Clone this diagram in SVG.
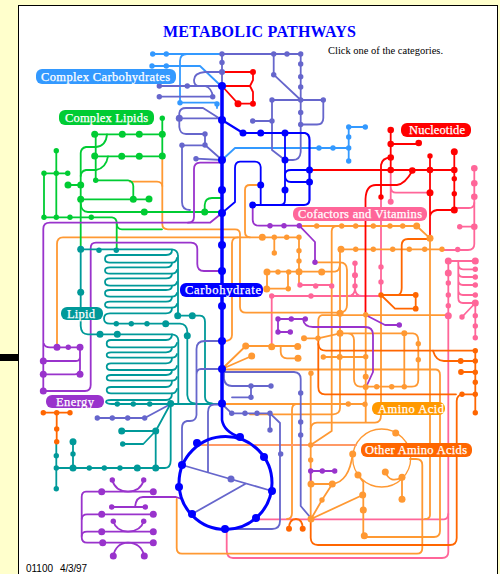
<svg xmlns="http://www.w3.org/2000/svg" width="500" height="574" viewBox="0 0 500 574">
<style>
.p{fill:none;stroke-width:1.8;stroke-linecap:round;stroke-linejoin:round}
.bl{stroke:#0000FF}.lb{stroke:#3399FF}.pb{stroke:#6666CC}.re{stroke:#FF0000}.gr{stroke:#00CC33}.lo{stroke:#FF9933}.dk{stroke:#FF6600}.pk{stroke:#FF6699}.pu{stroke:#9933CC}.te{stroke:#009999}
.fbl{fill:#0000FF}.flb{fill:#3399FF}.fpb{fill:#6666CC}.fre{fill:#FF0000}.fgr{fill:#00CC33}.flo{fill:#FF9933}.fdk{fill:#FF6600}.fpk{fill:#FF6699}.fpu{fill:#9933CC}.fte{fill:#009999}
.lab{font-family:"Liberation Serif",serif;font-size:12.5px;fill:#FFFFFF;stroke:#FFFFFF;stroke-width:.25}
</style>
<rect width="500" height="574" fill="#FFFFCC"/>
<rect x="18.5" y="5.5" width="479" height="570" fill="#FFFFFF" stroke="#000000" stroke-width="1"/>
<rect x="0" y="354" width="18" height="7" fill="#000000"/>
<text x="163" y="36.5" font-family="'Liberation Serif',serif" font-size="16" font-weight="bold" fill="#0000FF" textLength="193">METABOLIC PATHWAYS</text>
<text x="328" y="54" font-family="'Liberation Serif',serif" font-size="10.5" fill="#000000" textLength="115">Click one of the categories.</text>
<text x="26" y="572" font-family="'Liberation Sans',sans-serif" font-size="10" fill="#000000" textLength="27">01100</text>
<text x="60" y="572" font-family="'Liberation Sans',sans-serif" font-size="10" fill="#000000" textLength="27">4/3/97</text>

<g id="connectors">
<g class="p pk">
<path d="M226.7,529V550Q226.7,558 233,558H442Q448.3,558 448.3,552V261"/>
<path d="M256,519.3H444Q448,519 448.3,514"/>
<path d="M381,197V295"/>
<path d="M390.7,170V201.7M390.7,187Q391,192.7 396,192.7H430"/>
<path d="M474.3,168.3V244Q474.3,250 468,250H442"/>
<path d="M459.7,226.7H474.3M454.3,208H469Q474,208 474.3,203"/>
<path d="M448.3,261H475.3M458.3,261V298Q458.3,303 463,303H475.3M458.3,264Q458.3,269.3 463,269.3H475.3M458.3,272Q458.3,277 463,277H475.3M458.3,280Q458.3,285 463,285H475.3M458.3,290Q458.3,295 463,295H475.3"/>
<path d="M475.3,303L462,317M475.3,303V337.7"/>
<path d="M271.7,346.7V296H381"/>
<path d="M355,263.3V288Q355,296 348,296M355,288Q355,296 362,296"/>
<path d="M300,285H331"/>
</g>
<g class="p lo">
<path d="M162.3,156V224Q162.3,229.3 168,229.3H235Q240,229.3 240,234V307Q240,312.7 246,312.7H340Q347,312 347,305V270Q347,262.3 340,262.3H315"/>
<path d="M130,181.7H157Q162,182 162.3,186"/>
<path d="M57,347V244Q57,237.3 63,237.3H299"/>
<path d="M238,237.3Q232,237.5 232,243V335Q232,340 226,341"/>
<path d="M260.7,185H250Q245,185 245,190V232Q245,237 250,237.3"/>
<path d="M274.3,237.3V253M299,237.3V285"/>
<path d="M267,271.7H335Q340,271 340,263"/>
<path d="M267,271.7V288.7H288V271.7"/>
<path d="M222,369L245.7,346M222,369L251.7,356M245.7,346H297.7M280.7,346.7V352Q281,358.3 287,358.3H298"/>
<path d="M222,369.5H436Q440,370 440,375V531Q440,537 434,537H364.3"/>
<path d="M222,404H365.7"/>
<path d="M296,404Q292,404.3 292,410V513Q292,519 287,519"/>
<path d="M250,414.3H333Q340,414 340,408V249.3"/>
<path d="M341,249.3H442M300,226H416.7L430,238.3V515Q430,519 425,519"/>
<path d="M331.7,431V231Q332,226 337,226M331.7,431L310.7,445"/>
<path d="M381,295V415Q381,422.7 375,422.7H317Q311,423 310.7,429"/>
<path d="M310.7,373.3V519"/>
<path d="M322,315.2H448.3M322,315.2Q318.3,316 318.3,321V340"/>
<path d="M365.7,314V422"/>
<path d="M304,338.3H318L340,333.3H413Q418.3,334 418.3,340V380Q418.3,386.7 412,386.7H360Q354,386 354,379V340Q354,334 348,333.3"/>
<path d="M404.3,333.3V386.7"/>
<path d="M323.3,357H365.7"/>
<path d="M311,484H332.3M311,519L322,500L332.3,484M311,519L362.7,495"/>
<path d="M332.3,484Q349,482 352.7,454"/>
<path d="M358,475L363.3,482V536"/>
<circle cx="381.7" cy="458" r="29" stroke-width="1.3"/>
<path d="M385.3,472Q390,484 402,477.3V499.3"/>
<path d="M176.7,499V548Q176.7,553.7 182,553.7H417Q422.3,553.7 422.3,548V465Q422.3,459 416,459H410"/>
<path d="M198,445H356" stroke="#FF9966"/>
</g>
<g class="p dk">
<path d="M310.7,519V538Q311,545 318,545H450Q456.7,545 456.7,538V401Q457,394.3 463,394.3H475.3"/>
<path d="M318.3,338V387Q318.3,394.3 325,394.3H456"/>
<path d="M318.3,344Q319,350.7 326,350.7H475.3V412.7"/>
<path d="M433,350.7Q436,361 444,361H475.3M461,372H475.3"/>
<path d="M381,295H415.7V308.7H395L381,295"/>
<path d="M398,295Q401.7,294 401.7,288V245Q402,239 408,239H430"/>
<path d="M289,528.7Q289,519 296,519Q302.7,519 302.7,528.7"/>
<path d="M43.3,412.7H70M56.7,412.7V441.7"/>
</g>
<g class="p gr">
<path d="M162.3,118.3V156M94.7,134.3H162.3M94.7,156.3H162.3M95.7,134.3V180.3H128Q133,181 133.3,186V199.3"/>
<path d="M107,134.3Q106,146 96,147H86Q81,148 80.7,153V249.3"/>
<path d="M108,156.3Q106,168 96,170H86Q81,171 80.7,176"/>
<path d="M68,185H80.7M80.7,199.3H149"/>
<path d="M80.7,203Q81,212 88,212H222"/>
<path d="M204.7,212V205Q205,198 212,198H222"/>
<path d="M56.3,150.7V217.3M44,173.3H67.7M44,173.3V217.3H112Q116.7,218 116.7,223V250"/>
<path d="M116.7,224Q117,229.3 122,229.3H162"/>
</g>
<g class="p pu">
<path d="M43.3,391V229Q43.3,222.7 50,222.7H210L222,213"/>
<path d="M222,162.7H200Q194,163 194,169V217Q194,222.7 188,222.7"/>
<path d="M43.3,391H85Q90.7,391 90.7,385V248Q90.7,242.7 96,242.7H191Q197.3,243 197.3,249V264Q197.3,271 204,271H222"/>
<path d="M44,344Q45,347.3 50,347.3H80V369Q80,374.3 75,374.3H43.3M43.3,361H76Q80,361 80,357"/>
<path d="M252.7,205V220Q253,225.7 259,225.7H299.3L315,242V262.3"/>
<path d="M278,319H305.3M278,319V332H290.3M303,319Q304,327 313,327H365Q373,327 373,335V372L365.7,388"/>
<path d="M365.7,315L385,325H399.3"/>
<path d="M310.7,484V471H334.7"/>
<path d="M101.7,491.7H86Q81.7,492 81.7,497V537Q81.7,542.7 87,542.7H153.3"/>
<path d="M101.7,491.7H153.3M87,514.3H153.3M87,531.7H153.3M81.7,519Q82,514.3 87,514.3M81.7,536Q82,531.7 87,531.7"/>
<path d="M112.3,480Q115,491 128,491.7Q141,491 143.7,480"/>
<path d="M111.7,507H145.3M135,507Q136,497 143,497H176L181.7,499"/>
<path d="M113.3,521.3Q116,531 128,531.7Q141,531 143.7,521.3"/>
<path d="M113.3,556Q116,543 128,542.7Q141,543 144.3,556"/>
</g>
<g class="p te">
<path d="M80.7,249.3V326Q81,334.3 88,334.3H172Q178,335 178.3,340V404"/>
<path d="M80.7,249.3H172Q178,250 178,256V315.7"/>
<path d="M172,250Q172,255 166,255H110Q105,255 105,259Q105,262.7 110,262.7H172Q176,262.7 177,258"/>
<path d="M172,262.7Q172,267.3 166,267.3H110Q105,267.3 105,270.5Q105,273.7 110,273.7H172Q176,273.7 177,270"/>
<path d="M172,273.7Q172,278.3 166,278.3H110Q105,278.3 105,282Q105,285.7 110,285.7H172Q176,285.7 177,282"/>
<path d="M172,285.7Q172,290 166,290H110Q105,290 105,293.3Q105,296.7 110,296.7H172Q176,296.7 177,293"/>
<path d="M172,296.7Q172,301.7 166,301.7H110Q105,301.7 105,304.7Q105,307.7 110,307.7H172Q176,307.7 177,304"/>
<path d="M172,307.7Q172,313.3 166,313.3H110Q104,313.3 104,318.5Q104,323.7 110,323.7H180Q187,324 187.3,332V395Q188,403 195,403.5"/>
<path d="M177.7,315.7H200Q205,316 205,322V397Q205,403 212,403.5"/>
<path d="M172,334.3Q172,340 166,340H111Q106.7,340 106.7,343.7Q106.7,347.3 111,347.3H172Q176,347.3 177,343"/>
<path d="M172,347.3Q172,352.3 166,352.3H111Q106.7,352.3 106.7,355Q106.7,357.7 111,357.7H172Q176,357.7 177,354"/>
<path d="M172,357.7Q172,363.3 166,363.3H111Q106.7,363.3 106.7,366.7Q106.7,370 111,370H172Q176,370 177,366"/>
<path d="M172,370Q172,375 166,375H111Q106.7,375 106.7,378Q106.7,380.7 111,380.7H172Q176,380.7 177,377"/>
<path d="M172,380.7Q172,387 166,387H111Q106.7,387 106.7,390Q106.7,393.3 111,393.3H172Q176,393.3 177,389"/>
<path d="M172,393.3Q172,400 166,400H111Q106,400 106,402Q107,404 112,404H222"/>
<path d="M56.3,441.7V488.7M56.3,468H165Q170.7,468 170.7,460V403.5M73,441.7V468"/>
<path d="M155.7,431H121.7M155.7,431V468M170.7,403.5L155.7,431L143.3,444H122.7"/>
</g>
<g class="p lb">
<path d="M152.7,54H222M187,54Q180,54 180,61V102.7H217V108"/>
<path d="M152,66H200L220,85"/>
<path d="M222,160L235,148H348.7M348.7,127V161M348.7,127H365.3"/>
</g>
<g class="p pb">
<path d="M222,54H300.7V124.5M222,54V86"/>
<path d="M273.7,54V74.7L300.7,100M272,100H323.3V118Q323.3,124.5 317,124.5H300.7"/>
<path d="M272,100V150L285,160M300.7,124.5V152Q300,160 293,160H285M252.7,121H272"/>
<path d="M159.3,86H222M159.3,96.7H212.7Q212,88 205,86"/>
<path d="M222,72H205Q194,73 194,80Q194,85 198,86"/>
<path d="M179.3,118.3H222M179.3,118.3V113Q180,108 186,108H203L222,120M179.3,118.3V127Q180,134 186,134H205V145L222,160"/>
<path d="M182,145.3H205M196,158.7L222,160M182,145.3V202Q182,210 190,210"/>
<path d="M222,341H205Q196.5,341 196.5,349V415Q196,421 190,421H187Q182,422 182,428V465M222,369H201Q196.5,369 196.5,375"/>
<path d="M224,372H294Q300.7,372.7 300.7,379V506L310,517"/>
<path d="M224,372V379Q225,386 232,386H271M251,386V397.3H232"/>
<path d="M222,404L231.7,413.3H270L280,423V521Q280,529 272,529H225M270,413.3V430"/>
<path d="M182,465L272,491M192,514L246,483.5M208,472V412Q208,405 214,404.5H222"/>
<path d="M97.3,418H144.7L170.7,404"/>
</g>
<g class="p re">
<path d="M222,72H253M222,86H250M253,72V80L250,86L253,92V103.7M222,86L238,103.7H253"/>
<path d="M309.5,170H454.3M390.7,130V170M390.7,144H418.7"/>
<path d="M381,197V165Q382,158 390.7,157.5"/>
<path d="M430,156V238M454.3,151.7V210H437Q431,211 430,216"/>
<path d="M365.5,314V199Q366,185 376,185H397Q405,184 412.3,171"/>
</g>
<g class="p bl">
<path d="M222,86V403.5" stroke-width="3.5"/>
<path d="M222,86V120L243,133H305Q309.5,134 309.5,140V200Q309,205 304,205H252.7" stroke-width="2.2"/>
<path d="M285,133V200Q285,205 280,205M260.7,205V167Q260,161.7 255,161.7H240Q235,162 235,168V202L222,213"/>
<path d="M309.5,170H291Q285,170 285,175Q285,182 291,182H309.5"/>
<path d="M222,403.5V420Q224,432 240,437" stroke-width="2.6"/>
<circle cx="225.5" cy="483" r="46.5" stroke-width="3"/>
</g>
</g>

<g id="dots-light-blue" class="flb">
<circle cx="152.7" cy="54" r="2.7"/><circle cx="166.3" cy="54" r="2.7"/><circle cx="152" cy="66" r="2.7"/><circle cx="166.3" cy="66" r="2.7"/><circle cx="180" cy="102.7" r="2.7"/><circle cx="217" cy="104" r="2.7"/><circle cx="319" cy="148" r="2.7"/><circle cx="333" cy="148" r="2.7"/><circle cx="348.7" cy="127" r="2.7"/><circle cx="348.7" cy="137" r="2.7"/><circle cx="348.7" cy="148" r="2.7"/><circle cx="348.7" cy="161" r="2.7"/><circle cx="365.3" cy="127" r="2.7"/>
</g>
<g id="dots-slate" class="fpb">
<circle cx="222" cy="54" r="2.7"/><circle cx="222" cy="62.5" r="2.7"/><circle cx="222" cy="72" r="3"/><circle cx="273.7" cy="54" r="2.7"/><circle cx="287" cy="54" r="2.7"/><circle cx="300.7" cy="54" r="2.7"/><circle cx="300.7" cy="64" r="2.7"/><circle cx="300.7" cy="76.7" r="2.7"/><circle cx="300.7" cy="87" r="2.7"/><circle cx="300.7" cy="100" r="2.7"/><circle cx="300.7" cy="112.5" r="2.7"/><circle cx="300.7" cy="124.5" r="2.7"/><circle cx="273.7" cy="74.7" r="2.7"/><circle cx="272" cy="100" r="2.7"/><circle cx="323.3" cy="100" r="2.7"/><circle cx="272" cy="121" r="2.7"/><circle cx="252.7" cy="121" r="2.7"/><circle cx="159.3" cy="86" r="2.7"/><circle cx="187.3" cy="86" r="2.7"/><circle cx="159.3" cy="96.7" r="2.7"/><circle cx="212.7" cy="96.7" r="2.7"/><circle cx="179.3" cy="118.3" r="3.5"/><circle cx="205" cy="134" r="2.7"/><circle cx="205" cy="145" r="2.7"/><circle cx="182" cy="145.3" r="2.7"/><circle cx="196" cy="158.7" r="2.7"/><circle cx="231" cy="479" r="3.5"/><circle cx="251" cy="386" r="2.7"/><circle cx="271" cy="386" r="2.7"/><circle cx="251" cy="397.3" r="2.7"/><circle cx="231.7" cy="413.3" r="2.7"/><circle cx="245" cy="413.3" r="2.7"/><circle cx="257" cy="413.3" r="2.7"/><circle cx="270" cy="413.3" r="2.7"/><circle cx="270" cy="430" r="2.7"/><circle cx="280.7" cy="454" r="2.7"/><circle cx="300.7" cy="393" r="2.7"/><circle cx="300.7" cy="422" r="2.7"/><circle cx="300.7" cy="435" r="2.7"/><circle cx="97.3" cy="418" r="2.7"/><circle cx="112.3" cy="418" r="2.7"/><circle cx="127.7" cy="418" r="2.7"/><circle cx="144.7" cy="418" r="2.7"/>
</g>
<g id="dots-red" class="fre">
<circle cx="253" cy="72" r="3"/><circle cx="253" cy="103.7" r="3"/><circle cx="238" cy="103.7" r="3.5"/><circle cx="390.7" cy="130" r="3.3"/><circle cx="390.7" cy="144" r="3.3"/><circle cx="390.7" cy="157.5" r="3.3"/><circle cx="390.7" cy="170" r="3.3"/><circle cx="418.7" cy="143" r="3.3"/><circle cx="412.3" cy="170.5" r="3.3"/><circle cx="430" cy="156" r="2.7"/><circle cx="430" cy="170" r="3.3"/><circle cx="430" cy="192.7" r="3.5"/><circle cx="454.3" cy="151.7" r="3.5"/><circle cx="454.3" cy="170" r="3.3"/><circle cx="454.3" cy="178.7" r="2.7"/><circle cx="454.3" cy="193.7" r="2.7"/><circle cx="454.3" cy="210" r="3.5"/><circle cx="381" cy="197" r="2.7"/>
</g>
<g id="dots-pink" class="fpk">
<circle cx="474.3" cy="168.3" r="3.3"/><circle cx="474.3" cy="183.3" r="3.3"/><circle cx="474.3" cy="196.7" r="3.3"/><circle cx="474.3" cy="226.7" r="3.3"/><circle cx="459.7" cy="226.7" r="2.7"/><circle cx="457.7" cy="249.5" r="2.7"/><circle cx="390.7" cy="201.7" r="3"/><circle cx="381" cy="267" r="2.7"/><circle cx="381" cy="282" r="2.7"/><circle cx="448.3" cy="261" r="3.5"/><circle cx="448.3" cy="273" r="3.5"/><circle cx="448.3" cy="283" r="2.7"/><circle cx="448.3" cy="295" r="2.7"/><circle cx="448.3" cy="305.7" r="2.7"/><circle cx="448.3" cy="315.7" r="3.5"/><circle cx="475.3" cy="261" r="3.5"/><circle cx="475.3" cy="269.3" r="2.7"/><circle cx="475.3" cy="277" r="2.7"/><circle cx="475.3" cy="285" r="2.7"/><circle cx="475.3" cy="295" r="2.7"/><circle cx="475.3" cy="303" r="3.5"/><circle cx="462" cy="317" r="2.7"/><circle cx="475.3" cy="315.7" r="2.7"/><circle cx="475.3" cy="326" r="2.7"/><circle cx="475.3" cy="337.7" r="2.7"/><circle cx="271.7" cy="296" r="2.7"/><circle cx="311" cy="296" r="2.7"/><circle cx="355" cy="263.3" r="2.7"/><circle cx="355" cy="275.3" r="3"/><circle cx="355" cy="286" r="2.7"/><circle cx="300" cy="285" r="2.7"/><circle cx="315.7" cy="286" r="2.7"/><circle cx="331.7" cy="286" r="2.7"/>
</g>
<g id="dots-green" class="fgr">
<circle cx="162.3" cy="118.3" r="2.7"/><circle cx="162.3" cy="134.3" r="3.5"/><circle cx="162.3" cy="156" r="3.5"/><circle cx="94.7" cy="134.3" r="3.5"/><circle cx="122.3" cy="134.3" r="3.5"/><circle cx="139.3" cy="134.3" r="3.5"/><circle cx="94.7" cy="156" r="3.5"/><circle cx="121.7" cy="156.3" r="3.5"/><circle cx="139.3" cy="156.3" r="3.5"/><circle cx="95.7" cy="180.3" r="2.7"/><circle cx="80.7" cy="185" r="3.5"/><circle cx="68" cy="185" r="3.5"/><circle cx="80.7" cy="199.3" r="3.5"/><circle cx="133.3" cy="199.3" r="3.5"/><circle cx="149" cy="199" r="3.5"/><circle cx="144.3" cy="212" r="3.5"/><circle cx="204.7" cy="212" r="3.5"/><circle cx="56.3" cy="150.7" r="2.7"/><circle cx="44" cy="173.3" r="2.7"/><circle cx="56.3" cy="173.3" r="2.7"/><circle cx="67.7" cy="173.3" r="2.7"/><circle cx="44" cy="217.3" r="2.7"/><circle cx="56.3" cy="217.3" r="2.7"/><circle cx="70" cy="217.3" r="2.7"/><circle cx="91.3" cy="217.3" r="2.7"/>
</g>
<g id="dots-orange" class="flo">
<circle cx="262.3" cy="237.3" r="3.5"/><circle cx="274.3" cy="237.3" r="2.7"/><circle cx="286.7" cy="237.3" r="2.7"/><circle cx="299" cy="237.3" r="2.7"/><circle cx="274.3" cy="253" r="2.7"/><circle cx="299" cy="250.7" r="2.7"/><circle cx="299" cy="261" r="2.7"/><circle cx="299" cy="271.7" r="3.5"/><circle cx="267" cy="272" r="3.5"/><circle cx="278" cy="272" r="2.7"/><circle cx="288.7" cy="272" r="2.7"/><circle cx="321.7" cy="272" r="3.5"/><circle cx="266.7" cy="289" r="3.5"/><circle cx="288.3" cy="288.7" r="2.7"/><circle cx="245.7" cy="346" r="3.5"/><circle cx="251.7" cy="356" r="3.5"/><circle cx="271.7" cy="346.7" r="3.5"/><circle cx="297.7" cy="346.5" r="3.5"/><circle cx="298" cy="358.3" r="3.5"/><circle cx="311" cy="373.3" r="2.7"/><circle cx="316.7" cy="226" r="2.7"/><circle cx="341.7" cy="226" r="2.7"/><circle cx="355.7" cy="226" r="2.7"/><circle cx="373.3" cy="226" r="2.7"/><circle cx="390" cy="226" r="2.7"/><circle cx="402.7" cy="226" r="2.7"/><circle cx="416.7" cy="226" r="3.5"/><circle cx="430" cy="238.3" r="3.5"/><circle cx="341" cy="249.3" r="3.5"/><circle cx="355.7" cy="249.3" r="2.7"/><circle cx="373.3" cy="249.3" r="2.7"/><circle cx="392.7" cy="249.3" r="2.7"/><circle cx="409.3" cy="249.3" r="2.7"/><circle cx="424.7" cy="249.3" r="2.7"/><circle cx="442" cy="249.3" r="2.7"/><circle cx="340" cy="313.3" r="3.5"/><circle cx="340" cy="333.3" r="3.5"/><circle cx="339.7" cy="357" r="3"/><circle cx="365.7" cy="314.7" r="2.7"/><circle cx="304" cy="338.3" r="3"/><circle cx="318" cy="338.3" r="2.7"/><circle cx="418.3" cy="343.7" r="2.7"/><circle cx="418.3" cy="359.7" r="2.7"/><circle cx="376.7" cy="386.7" r="2.7"/><circle cx="391.7" cy="386.7" r="2.7"/><circle cx="404.3" cy="386.7" r="2.7"/><circle cx="365.7" cy="387" r="3"/><circle cx="365.7" cy="376.7" r="3"/><circle cx="404.3" cy="333.3" r="3"/><circle cx="365.7" cy="356.7" r="2.7"/><circle cx="323.3" cy="357" r="2.7"/><circle cx="348.3" cy="404" r="2.7"/><circle cx="365" cy="404.3" r="2.7"/><circle cx="310.7" cy="445" r="2.7"/><circle cx="310.7" cy="460" r="2.7"/><circle cx="311" cy="484" r="3.5"/><circle cx="311" cy="519" r="3.5"/><circle cx="322" cy="500" r="2.7"/><circle cx="332.3" cy="484" r="3.5"/><circle cx="362.7" cy="495" r="3.5"/><circle cx="363.3" cy="510" r="3.5"/><circle cx="364.3" cy="535.7" r="3.5"/><circle cx="352.7" cy="454" r="3.5"/><circle cx="395.7" cy="433" r="3.5"/><circle cx="358" cy="475" r="3.5"/><circle cx="402" cy="477.3" r="3.5"/><circle cx="385.3" cy="472" r="3.5"/><circle cx="402" cy="499.3" r="3.5"/>
</g>
<g id="dots-dark-orange" class="fdk">
<circle cx="381" cy="295" r="2.7"/><circle cx="415.7" cy="295" r="2.9"/><circle cx="415.7" cy="308.7" r="2.9"/><circle cx="475.3" cy="350.7" r="2.7"/><circle cx="475.3" cy="361" r="2.7"/><circle cx="460.7" cy="361" r="2.9"/><circle cx="475.3" cy="372.3" r="2.7"/><circle cx="461" cy="372" r="2.9"/><circle cx="475.3" cy="382.3" r="2.7"/><circle cx="475.3" cy="394.3" r="2.7"/><circle cx="462" cy="394.3" r="2.7"/><circle cx="475.3" cy="412.7" r="2.7"/><circle cx="289" cy="528.7" r="3"/><circle cx="302.7" cy="528.7" r="3"/><circle cx="43.3" cy="412.7" r="2.7"/><circle cx="56.7" cy="412.7" r="2.7"/><circle cx="70" cy="412.7" r="2.7"/><circle cx="56.7" cy="429" r="2.7"/><circle cx="56.7" cy="441.7" r="2.7"/>
</g>
<g id="dots-purple" class="fpu">
<circle cx="43.3" cy="361" r="3.5"/><circle cx="43.3" cy="374.3" r="3.5"/><circle cx="43.3" cy="391" r="3.5"/><circle cx="57" cy="347.3" r="3.5"/><circle cx="68.3" cy="347.3" r="2.7"/><circle cx="80" cy="347.3" r="3.5"/><circle cx="80" cy="374.3" r="3.5"/><circle cx="270" cy="225.7" r="2.7"/><circle cx="284" cy="225.7" r="2.7"/><circle cx="299.3" cy="225.7" r="2.7"/><circle cx="315" cy="262.3" r="2.7"/><circle cx="278" cy="319" r="2.7"/><circle cx="291.3" cy="319" r="2.7"/><circle cx="305.3" cy="319" r="2.7"/><circle cx="278" cy="332" r="2.7"/><circle cx="290.3" cy="332" r="2.7"/><circle cx="399.3" cy="325" r="2.7"/><circle cx="310.7" cy="471" r="2.7"/><circle cx="322.3" cy="471" r="2.7"/><circle cx="334.7" cy="471" r="2.7"/><circle cx="101.7" cy="491.7" r="3.5"/><circle cx="153.3" cy="491.7" r="3.5"/><circle cx="101.7" cy="514.3" r="3.5"/><circle cx="153.3" cy="514.3" r="3.5"/><circle cx="101.7" cy="531.7" r="3.5"/><circle cx="153.3" cy="531.7" r="3.5"/><circle cx="102.7" cy="542.7" r="3.5"/><circle cx="153.3" cy="542.7" r="3.5"/><circle cx="112.3" cy="480" r="2.7"/><circle cx="143.7" cy="480" r="2.7"/><circle cx="111.7" cy="507" r="2.7"/><circle cx="145.3" cy="507" r="2.7"/><circle cx="113.3" cy="521.3" r="2.7"/><circle cx="143.7" cy="521.3" r="2.7"/><circle cx="113.3" cy="556" r="3.5"/><circle cx="144.3" cy="556" r="3.5"/>
</g>
<g id="dots-teal" class="fte">
<circle cx="80.7" cy="249.3" r="3.5"/><circle cx="99" cy="250.3" r="2.7"/><circle cx="116.3" cy="250.3" r="2.7"/><circle cx="80.7" cy="292.3" r="3.5"/><circle cx="100" cy="334.3" r="3.5"/><circle cx="117.3" cy="334.3" r="3.5"/><circle cx="116.3" cy="323.7" r="2.7"/><circle cx="131.3" cy="323.7" r="2.7"/><circle cx="147" cy="323.7" r="2.7"/><circle cx="165.7" cy="323.7" r="3.5"/><circle cx="177.7" cy="315.7" r="3.5"/><circle cx="192.3" cy="315.7" r="3.5"/><circle cx="187.3" cy="335.7" r="3.5"/><circle cx="117.3" cy="404" r="2.7"/><circle cx="133.3" cy="404" r="2.7"/><circle cx="149.7" cy="404" r="2.7"/><circle cx="170.7" cy="403.5" r="3.5"/><circle cx="155.7" cy="431" r="3.5"/><circle cx="121.7" cy="431" r="3.5"/><circle cx="122.7" cy="444" r="2.7"/><circle cx="56.3" cy="455.7" r="2.7"/><circle cx="56.3" cy="468" r="2.7"/><circle cx="56.3" cy="488.7" r="2.7"/><circle cx="73" cy="441.7" r="3.5"/><circle cx="73" cy="454" r="2.7"/><circle cx="73" cy="468" r="3.5"/><circle cx="89.3" cy="468" r="2.7"/><circle cx="104.3" cy="468" r="2.7"/><circle cx="120" cy="468" r="2.7"/><circle cx="137.3" cy="468" r="3.5"/><circle cx="155.7" cy="468" r="3.5"/>
</g>
<g id="dots-blue" class="fbl">
<circle cx="222" cy="86" r="4"/><circle cx="222" cy="120" r="4"/><circle cx="222" cy="160" r="4"/><circle cx="222" cy="190" r="4"/><circle cx="222" cy="213" r="4"/><circle cx="222" cy="245" r="4"/><circle cx="222" cy="271" r="4"/><circle cx="222" cy="306" r="4"/><circle cx="222" cy="341" r="4"/><circle cx="222" cy="369" r="4"/><circle cx="222" cy="403.5" r="4"/><circle cx="243" cy="133" r="3.5"/><circle cx="260.7" cy="133" r="3.5"/><circle cx="285" cy="133" r="3.5"/><circle cx="285" cy="160" r="3.5"/><circle cx="285" cy="190" r="3.5"/><circle cx="260.7" cy="185" r="3.5"/><circle cx="309.5" cy="170" r="3.5"/><circle cx="309.5" cy="182" r="3.5"/><circle cx="252.7" cy="205" r="3.5"/><circle cx="197" cy="443" r="4"/><circle cx="182" cy="465" r="4"/><circle cx="179" cy="487" r="4"/><circle cx="192" cy="514" r="4"/><circle cx="225" cy="529" r="4"/><circle cx="240" cy="437" r="4"/><circle cx="264" cy="457" r="4"/><circle cx="272" cy="491" r="4"/><circle cx="256" cy="518" r="4"/>
</g>

<g id="label-complex-carbohydrates"><rect x="36" y="69" width="140" height="15" rx="6" class="flb"/><text class="lab" x="41" y="80.5" textLength="129">Complex Carbohydrates</text></g>
<g id="label-complex-lipids"><rect x="59" y="110" width="95" height="15" rx="6" class="fgr"/><text class="lab" x="65" y="121.5" textLength="83">Complex Lipids</text></g>
<g id="label-nucleotide"><rect x="401" y="123" width="70" height="14" rx="6" class="fre"/><text class="lab" x="409" y="134" textLength="56">Nucleotide</text></g>
<g id="label-cofactors"><rect x="293" y="207" width="134" height="14" rx="6" class="fpk"/><text class="lab" x="298" y="218" textLength="124">Cofactors and Vitamins</text></g>
<g id="label-carbohydrate"><rect x="180" y="283" width="83" height="14" rx="6" class="fbl"/><text class="lab" x="185" y="294" textLength="76">Carbohydrate</text></g>
<g id="label-lipid"><rect x="61" y="307" width="42" height="13" rx="6" class="fte"/><text class="lab" x="67" y="317.5" textLength="28">Lipid</text></g>
<g id="label-energy"><rect x="46" y="395" width="58" height="13" rx="6" class="fpu"/><text class="lab" x="56" y="405.5" textLength="38">Energy</text></g>
<g id="label-amino-acid"><rect x="372" y="402" width="73" height="13" rx="6" fill="#FF9900"/><text class="lab" x="378" y="412.5" textLength="66">Amino Acid</text></g>
<g id="label-other-amino-acids"><rect x="361" y="443" width="111" height="14" rx="6" class="fdk"/><text class="lab" x="365" y="454" textLength="102">Other Amino Acids</text></g>
</svg>
